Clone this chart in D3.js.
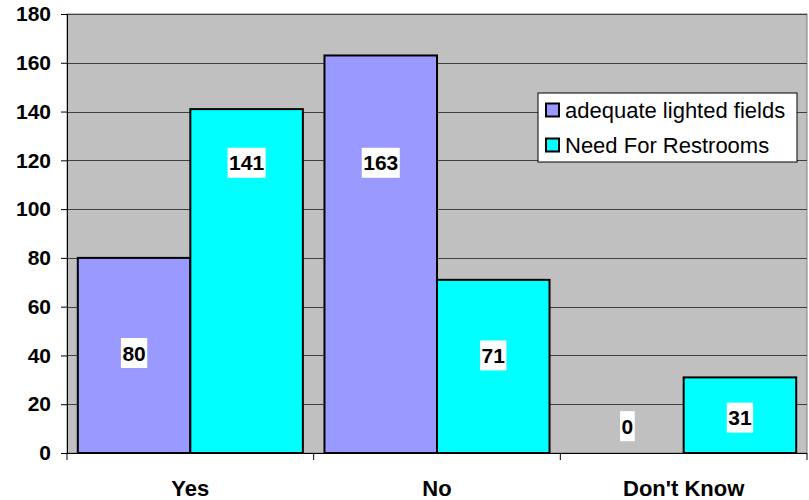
<!DOCTYPE html>
<html>
<head>
<meta charset="utf-8">
<script src="https://cdn.jsdelivr.net/npm/d3@7"></script>
<style>
  body { margin: 0; background: #fff; }
  text { font-family: "Liberation Sans", Arial, sans-serif; }
</style>
</head>
<body>
<svg id="chart" width="809" height="500"></svg>
<script>
// chart data
const categories = ['Yes', 'No', "Don't Know"];
const seriesNames = ['adequate lighted fields', 'Need For Restrooms'];
const lighted = [80, 163, 0];
const restrooms = [141, 71, 31];
// where the value boxes sit, in data units
const lightedLabelAt = [41, 119, 11];
const restroomsLabelAt = [119, 40, 14.5];
const yTicks = [0, 20, 40, 60, 80, 100, 120, 140, 160, 180];
const colors = ['#9999ff', '#00ffff'];

const svg = d3.select('#chart');
const plotLeft = 67, plotRight = 807, plotTop = 14, plotBottom = 453;

const x = d3.scaleBand().domain(categories).range([plotLeft, plotRight]).paddingInner(0).paddingOuter(0);
const xs = d3.scaleBand().domain(seriesNames).range([0, x.bandwidth()]).paddingOuter(0.096).paddingInner(0);
const y = d3.scaleLinear().domain([0, 180]).range([plotBottom, plotTop]);

// plot background
svg.append('rect')
    .attr('x', plotLeft).attr('y', plotTop)
    .attr('width', plotRight - plotLeft).attr('height', plotBottom - plotTop)
    .attr('fill', '#c0c0c0')
    .attr('stroke', '#808080').attr('stroke-width', 1);

// gridlines
svg.append('g').selectAll('line')
    .data(yTicks.filter(d => d > 0))
    .enter().append('line')
    .attr('x1', plotLeft).attr('x2', plotRight)
    .attr('y1', d => Math.round(y(d)) + 0.5).attr('y2', d => Math.round(y(d)) + 0.5)
    .attr('stroke', '#404040').attr('stroke-width', 1);

const data = categories.map((c, i) => ({
    cat: c,
    values: [
        {s: seriesNames[0], v: lighted[i], at: lightedLabelAt[i]},
        {s: seriesNames[1], v: restrooms[i], at: restroomsLabelAt[i]}
    ]
}));

const groups = svg.append('g').selectAll('g')
    .data(data).enter().append('g')
    .attr('transform', d => `translate(${x(d.cat)},0)`);

groups.selectAll('rect')
    .data(d => d.values.filter(e => e.v > 0))
    .enter().append('rect')
    .attr('x', d => xs(d.s))
    .attr('y', d => y(d.v))
    .attr('width', xs.bandwidth())
    .attr('height', d => y(0) - y(d.v))
    .attr('fill', d => colors[seriesNames.indexOf(d.s)])
    .attr('stroke', '#000').attr('stroke-width', 2);

// value labels with white boxes
const labels = groups.selectAll('g.lbl')
    .data(d => d.values)
    .enter().append('g').attr('class', 'lbl')
    .attr('transform', d => `translate(${xs(d.s) + xs.bandwidth() / 2},${y(d.at)})`);

labels.each(function (d) {
    const g = d3.select(this);
    const t = g.append('text')
        .attr('text-anchor', 'middle')
        .attr('dy', '0.36em')
        .attr('font-size', 21).attr('font-weight', 'bold')
        .text(d.v);
    const w = t.node().getComputedTextLength();
    g.insert('rect', 'text')
        .attr('x', -w / 2 - 1.5).attr('y', -15)
        .attr('width', w + 3).attr('height', 30)
        .attr('fill', '#fff');
});

// y axis
const yAxis = svg.append('g')
    .attr('transform', `translate(${plotLeft},0)`)
    .call(d3.axisLeft(y).tickValues(yTicks).tickSize(6).tickPadding(10));
yAxis.select('.domain').attr('stroke', '#000');
yAxis.selectAll('.tick line').attr('stroke', '#000');
yAxis.selectAll('.tick text')
    .attr('font-size', 21).attr('font-weight', 'bold')
    .attr('font-family', '"Liberation Sans", Arial, sans-serif')
    .attr('fill', '#000');

// x axis
const xAxis = svg.append('g')
    .attr('transform', `translate(0,${plotBottom})`);
xAxis.append('line')
    .attr('x1', plotLeft - 6).attr('x2', plotRight)
    .attr('y1', 0.5).attr('y2', 0.5)
    .attr('stroke', '#000');
xAxis.selectAll('line.tk')
    .data(categories.concat(['end']))
    .enter().append('line').attr('class', 'tk')
    .attr('x1', (d, i) => plotLeft + i * x.bandwidth())
    .attr('x2', (d, i) => plotLeft + i * x.bandwidth())
    .attr('y1', 0).attr('y2', 7)
    .attr('stroke', '#000');
xAxis.selectAll('text')
    .data(categories).enter().append('text')
    .attr('x', d => x(d) + x.bandwidth() / 2)
    .attr('y', 43)
    .attr('text-anchor', 'middle')
    .attr('font-size', 22).attr('font-weight', 'bold')
    .text(d => d);

// legend
const legend = svg.append('g').attr('transform', 'translate(538,93)');
legend.append('rect')
    .attr('width', 259).attr('height', 69)
    .attr('fill', '#fff').attr('stroke', '#000');
const li = legend.selectAll('g.item')
    .data(seriesNames).enter().append('g').attr('class', 'item')
    .attr('transform', (d, i) => `translate(8,${17 + i * 35})`);
li.append('rect')
    .attr('x', 0).attr('y', -6.5)
    .attr('width', 13).attr('height', 13)
    .attr('fill', (d, i) => colors[i])
    .attr('stroke', '#000').attr('stroke-width', 2);
li.append('text')
    .attr('x', 19).attr('dy', '0.36em')
    .attr('font-size', 22)
    .text(d => d);
</script>
</body>
</html>
